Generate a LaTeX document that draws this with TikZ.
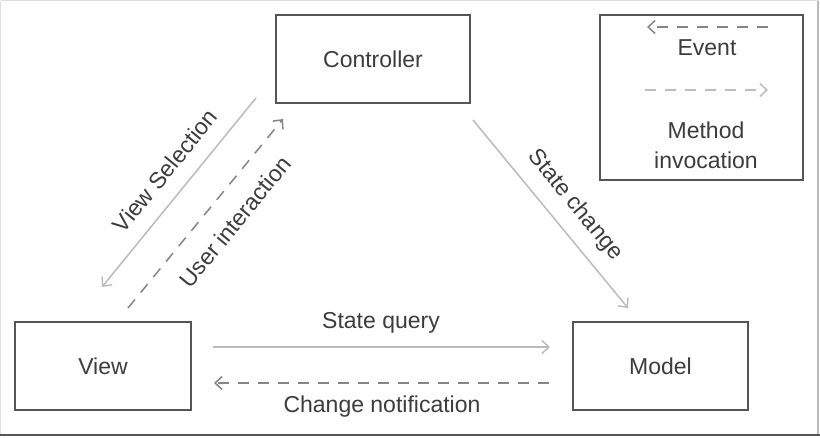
\documentclass[tikz,border=0pt]{standalone}
\usepackage{fontspec}
\setmainfont{Liberation Sans}
\usetikzlibrary{arrows.meta}
\definecolor{boxline}{HTML}{555555}
\definecolor{txt}{HTML}{3C3C3C}
\definecolor{solidarr}{HTML}{BBBBBB}
\definecolor{dasharr}{HTML}{858585}
\definecolor{lightdash}{HTML}{BDBDBD}
\begin{document}
\begin{tikzpicture}[x=1pt,y=-1pt,
  every node/.style={text=txt,font=\fontsize{23}{27}\selectfont},
  comp/.style={draw=boxline,line width=1.3pt,minimum width=#1,minimum height=88pt,inner sep=0pt},
  tip/.style={-{Straight Barb[length=7pt,width=13pt,line width=1.5pt]}},
  solidline/.style={tip,draw=solidarr,line width=1.5pt},
  dashline/.style={tip,draw=dasharr,line width=1.5pt,dash pattern=on 11pt off 9pt},
  lightdashline/.style={tip,draw=lightdash,line width=1.5pt,dash pattern=on 11pt off 9pt},
  lbl/.style={inner sep=1pt}]
\useasboundingbox (0,0) rectangle (820,437);
\fill[white] (0,0) rectangle (820,437);
% frame
\draw[gray!25,line width=1pt] (0.5,0.5) -- (818,0.5);
\draw[gray!25,line width=1pt] (0.5,0.5) -- (0.5,434);
\draw[gray!55,line width=1.2pt] (818,0.5) -- (818,434);
\draw[boxline,line width=2pt] (0,435) -- (820,435);

% components
\node[comp=194pt] (ctrl) at (373,59) {Controller};
\node[comp=176pt] (view) at (103,366) {View};
\node[comp=175pt] (model) at (660.5,366) {Model};

% legend
\node[draw=boxline,line width=1.3pt,minimum width=203pt,minimum height=165pt,inner sep=0pt] (legend) at (701.5,97.5) {};
\coordinate (e1) at (768,27);
\coordinate (e2) at (647,27);
\draw[dashline] (e1) -- (e2);
\node (event) at (707,48) {Event};
\coordinate (m1) at (645,90);
\coordinate (m2) at (768,90);
\draw[lightdashline] (m1) -- (m2);
\node[align=center] (method) at (706,145) {Method\\[3pt]invocation};

% connectors
\coordinate (vs1) at (256,98);
\coordinate (vs2) at (102,287);
\draw[solidline] (vs1) -- (vs2);
\node[lbl,rotate=50.8] (vslbl) at (165,171) {View Selection};

\coordinate (ui1) at (128,308);
\coordinate (ui2) at (283,119);
\draw[dashline] (ui1) -- (ui2);
\node[lbl,rotate=50.6] (uilbl) at (235,222) {User interaction};

\coordinate (sc1) at (473,120);
\coordinate (sc2) at (628,308);
\draw[solidline] (sc1) -- (sc2);
\node[lbl,rotate=-50.5] (sclbl) at (575,205) {State change};

\coordinate (sq1) at (213,347);
\coordinate (sq2) at (550,347);
\draw[solidline] (sq1) -- (sq2);
\node (sqlbl) at (381,323) {State query};

\coordinate (cn1) at (549,383);
\coordinate (cn2) at (214,383);
\draw[dashline] (cn1) -- (cn2);
\node (cnlbl) at (382,407) {Change notification};
\end{tikzpicture}
\end{document}
